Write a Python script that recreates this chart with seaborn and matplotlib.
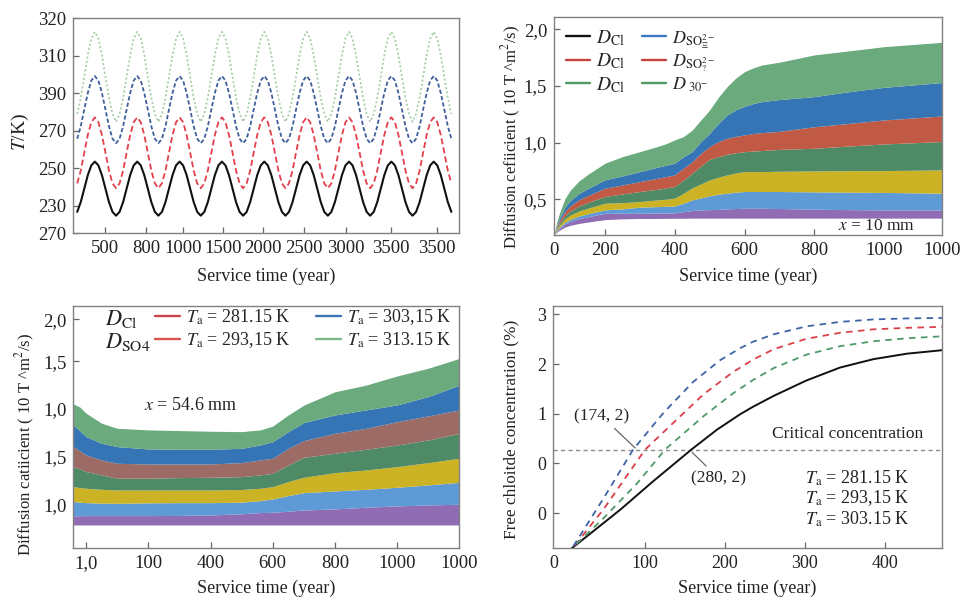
import numpy as np
import pandas as pd
import matplotlib
matplotlib.use("Agg")
import matplotlib.pyplot as plt
from matplotlib.lines import Line2D
import seaborn as sns

# ---------------- Panel (a): temperature histories ----------------
a_years = np.arange(134, 3739, 34)          # sampling times, 1/12 cycle apart
a_xticks = [402, 798, 1154, 1540, 1925, 2320, 2725, 3159, 3602]
a_xticklabels = ["500", "800", "1000", "1500", "2000", "2500", "3000", "3500", "3500"]
a_yticks = [320, 310, 300, 290, 280, 270, 262.7]
a_yticklabels = ["320", "310", "390", "270", "250", "230", "270"]

T_black = [
    268.4, 271.0, 274.6, 278.2, 280.8, 281.8, 280.8, 278.2, 274.6, 271.0, 268.4, 267.4,
    268.4, 271.0, 274.6, 278.2, 280.8, 281.8, 280.8, 278.2, 274.6, 271.0, 268.4, 267.4,
    268.4, 271.0, 274.6, 278.2, 280.8, 281.8, 280.8, 278.2, 274.6, 271.0, 268.4, 267.4,
    268.4, 271.0, 274.6, 278.2, 280.8, 281.8, 280.8, 278.2, 274.6, 271.0, 268.4, 267.4,
    268.4, 271.0, 274.6, 278.2, 280.8, 281.8, 280.8, 278.2, 274.6, 271.0, 268.4, 267.4,
    268.4, 271.0, 274.6, 278.2, 280.8, 281.8, 280.8, 278.2, 274.6, 271.0, 268.4, 267.4,
    268.4, 271.0, 274.6, 278.2, 280.8, 281.8, 280.8, 278.2, 274.6, 271.0, 268.4, 267.4,
    268.4, 271.0, 274.6, 278.2, 280.8, 281.8, 280.8, 278.2, 274.6, 271.0, 268.4, 267.4,
    268.4, 271.0, 274.6, 278.2, 280.8, 281.8, 280.8, 278.2, 274.6, 271.0, 268.4]
T_red = [
    276.0, 279.4, 284.2, 288.9, 292.3, 293.6, 292.3, 288.9, 284.2, 279.4, 276.0, 274.7,
    276.0, 279.4, 284.2, 288.9, 292.3, 293.6, 292.3, 288.9, 284.2, 279.4, 276.0, 274.7,
    276.0, 279.4, 284.2, 288.9, 292.3, 293.6, 292.3, 288.9, 284.2, 279.4, 276.0, 274.7,
    276.0, 279.4, 284.2, 288.9, 292.3, 293.6, 292.3, 288.9, 284.2, 279.4, 276.0, 274.7,
    276.0, 279.4, 284.2, 288.9, 292.3, 293.6, 292.3, 288.9, 284.2, 279.4, 276.0, 274.7,
    276.0, 279.4, 284.2, 288.9, 292.3, 293.6, 292.3, 288.9, 284.2, 279.4, 276.0, 274.7,
    276.0, 279.4, 284.2, 288.9, 292.3, 293.6, 292.3, 288.9, 284.2, 279.4, 276.0, 274.7,
    276.0, 279.4, 284.2, 288.9, 292.3, 293.6, 292.3, 288.9, 284.2, 279.4, 276.0, 274.7,
    276.0, 279.4, 284.2, 288.9, 292.3, 293.6, 292.3, 288.9, 284.2, 279.4, 276.0]
T_blue = [
    287.9, 291.2, 295.7, 300.1, 303.4, 304.6, 303.4, 300.1, 295.7, 291.2, 287.9, 286.7,
    287.9, 291.2, 295.7, 300.1, 303.4, 304.6, 303.4, 300.1, 295.7, 291.2, 287.9, 286.7,
    287.9, 291.2, 295.7, 300.1, 303.4, 304.6, 303.4, 300.1, 295.7, 291.2, 287.9, 286.7,
    287.9, 291.2, 295.7, 300.1, 303.4, 304.6, 303.4, 300.1, 295.7, 291.2, 287.9, 286.7,
    287.9, 291.2, 295.7, 300.1, 303.4, 304.6, 303.4, 300.1, 295.7, 291.2, 287.9, 286.7,
    287.9, 291.2, 295.7, 300.1, 303.4, 304.6, 303.4, 300.1, 295.7, 291.2, 287.9, 286.7,
    287.9, 291.2, 295.7, 300.1, 303.4, 304.6, 303.4, 300.1, 295.7, 291.2, 287.9, 286.7,
    287.9, 291.2, 295.7, 300.1, 303.4, 304.6, 303.4, 300.1, 295.7, 291.2, 287.9, 286.7,
    287.9, 291.2, 295.7, 300.1, 303.4, 304.6, 303.4, 300.1, 295.7, 291.2, 287.9]
T_green = [
    294.5, 298.8, 304.4, 310.2, 314.6, 316.4, 314.6, 310.2, 304.4, 298.8, 294.5, 292.4,
    294.5, 298.8, 304.4, 310.2, 314.6, 316.4, 314.6, 310.2, 304.4, 298.8, 294.5, 292.4,
    294.5, 298.8, 304.4, 310.2, 314.6, 316.4, 314.6, 310.2, 304.4, 298.8, 294.5, 292.4,
    294.5, 298.8, 304.4, 310.2, 314.6, 316.4, 314.6, 310.2, 304.4, 298.8, 294.5, 292.4,
    294.5, 298.8, 304.4, 310.2, 314.6, 316.4, 314.6, 310.2, 304.4, 298.8, 294.5, 292.4,
    294.5, 298.8, 304.4, 310.2, 314.6, 316.4, 314.6, 310.2, 304.4, 298.8, 294.5, 292.4,
    294.5, 298.8, 304.4, 310.2, 314.6, 316.4, 314.6, 310.2, 304.4, 298.8, 294.5, 292.4,
    294.5, 298.8, 304.4, 310.2, 314.6, 316.4, 314.6, 310.2, 304.4, 298.8, 294.5, 292.4,
    294.5, 298.8, 304.4, 310.2, 314.6, 316.4, 314.6, 310.2, 304.4, 298.8, 294.5]

# ---------------- Panel (b): diffusion coefficient, x = 10 mm ----------------
b_years = [54, 62, 70, 85, 100, 125, 150, 200, 250, 300, 350, 375, 400, 425, 450, 475, 500,
           525, 550, 575, 600, 625, 650, 700, 800, 900, 1000, 1165]
b_base = [0.185, 0.209, 0.227, 0.253, 0.269, 0.286, 0.298, 0.32, 0.327, 0.33, 0.33, 0.331,
          0.332, 0.332, 0.333, 0.333, 0.333, 0.333, 0.333, 0.333, 0.333, 0.333, 0.333, 0.333,
          0.333, 0.333, 0.333, 0.333]
b_purple = [0.185, 0.219, 0.244, 0.281, 0.303, 0.328, 0.345, 0.376, 0.376, 0.376, 0.378, 0.378,
            0.38, 0.39, 0.40, 0.406, 0.408, 0.41, 0.415, 0.418, 0.42, 0.42, 0.42, 0.418, 0.412,
            0.408, 0.406, 0.406]
b_lblue = [0.185, 0.225, 0.254, 0.296, 0.322, 0.351, 0.371, 0.406, 0.415, 0.43, 0.435, 0.437,
           0.44, 0.465, 0.494, 0.512, 0.53, 0.544, 0.553, 0.562, 0.568, 0.568, 0.568, 0.568,
           0.565, 0.562, 0.56, 0.553]
b_yellow = [0.185, 0.235, 0.272, 0.325, 0.359, 0.395, 0.42, 0.465, 0.47, 0.48, 0.494, 0.50,
            0.509, 0.553, 0.60, 0.635, 0.67, 0.694, 0.715, 0.732, 0.744, 0.744, 0.744, 0.747,
            0.75, 0.752, 0.753, 0.759]
b_dgreen = [0.185, 0.246, 0.29, 0.355, 0.395, 0.439, 0.47, 0.524, 0.547, 0.568, 0.588, 0.60,
            0.612, 0.67, 0.73, 0.794, 0.853, 0.876, 0.897, 0.91, 0.92, 0.926, 0.93, 0.94, 0.95,
            0.97, 0.988, 1.009]
b_red = [0.185, 0.259, 0.313, 0.391, 0.44, 0.494, 0.531, 0.597, 0.626, 0.656, 0.685, 0.70,
         0.715, 0.774, 0.832, 0.906, 0.965, 1.009, 1.038, 1.055, 1.068, 1.08, 1.088, 1.10, 1.14,
         1.17, 1.20, 1.235]
b_blue = [0.185, 0.272, 0.336, 0.428, 0.486, 0.55, 0.593, 0.671, 0.706, 0.744, 0.782, 0.80,
          0.818, 0.876, 0.92, 1.009, 1.082, 1.17, 1.244, 1.29, 1.32, 1.345, 1.362, 1.38, 1.406,
          1.45, 1.488, 1.53]
b_green = [0.185, 0.299, 0.381, 0.502, 0.577, 0.66, 0.717, 0.818, 0.876, 0.92, 0.965, 0.99,
           1.024, 1.053, 1.11, 1.2, 1.288, 1.40, 1.494, 1.57, 1.626, 1.66, 1.685, 1.71, 1.774,
           1.81, 1.847, 1.885]
b_xticks = [54, 200, 400, 600, 800, 1000, 1165]
b_xticklabels = ["0", "200", "400", "600", "800", "1000", "1000"]
b_yticks = [2.0, 1.5, 1.0, 0.5]
b_yticklabels = ["2,0", "1,5", "1,0", "0,5"]
b_legend_col1 = [r"$D_{\mathrm{Cl}}$", r"$D_{\mathrm{Cl}}$", r"$D_{\mathrm{Cl}}$"]
b_legend_col2 = [r"$D_{\mathrm{SO}_{\Xi}^{2-}}$", r"$D_{\mathrm{SO}_{?}^{2-}}$", r"$D_{\ 30^{-}}$"]

# ---------------- Panel (c): diffusion coefficient, x = 54.6 mm ----------------
c_years = [-41, -20, 0, 50, 100, 200, 300, 400, 500, 560, 600, 650, 700, 800, 900, 1000, 1100, 1200]
c_base = [0.783] * len(c_years)
c_purple = [0.878, 0.88, 0.881, 0.881, 0.881, 0.881, 0.883, 0.888, 0.90, 0.913, 0.916, 0.927,
            0.94, 0.951, 0.969, 0.983, 0.993, 1.0]
c_lblue = [1.028, 1.022, 1.017, 1.012, 1.01, 1.015, 1.017, 1.017, 1.022, 1.038, 1.056, 1.091,
           1.122, 1.14, 1.157, 1.178, 1.203, 1.23]
c_yellow = [1.185, 1.175, 1.168, 1.157, 1.15, 1.15, 1.15, 1.15, 1.155, 1.168, 1.185, 1.238,
            1.283, 1.332, 1.36, 1.395, 1.437, 1.483]
c_dgreen = [1.395, 1.37, 1.343, 1.308, 1.273, 1.273, 1.28, 1.283, 1.29, 1.308, 1.325, 1.413,
            1.493, 1.535, 1.577, 1.622, 1.675, 1.745]
c_brown = [1.605, 1.56, 1.517, 1.465, 1.43, 1.423, 1.423, 1.423, 1.437, 1.465, 1.483, 1.587,
           1.668, 1.745, 1.797, 1.867, 1.927, 1.99]
c_blue = [1.832, 1.77, 1.71, 1.64, 1.605, 1.58, 1.577, 1.577, 1.587, 1.622, 1.657, 1.762,
          1.857, 1.937, 1.99, 2.042, 2.13, 2.25]
c_green = [2.052, 2.02, 1.955, 1.85, 1.797, 1.78, 1.773, 1.766, 1.762, 1.78, 1.82, 1.937,
           2.04, 2.18, 2.25, 2.346, 2.427, 2.53]
c_xticks = [0, 200, 400, 600, 800, 1000, 1200]
c_xticklabels = ["1,0", "100", "400", "600", "800", "1000", "1000"]
c_yticks = [1.0, 1.5, 2.0, 2.5, 2.94]
c_yticklabels = ["1,0", "1,5", "1,0", "1,5", "2,0"]
c_legend_labels = [r"$T_{\mathrm{a}}$ = 281.15 K", r"$T_{\mathrm{a}}$ = 293,15 K",
                   r"$T_{\mathrm{a}}$ = 303,15 K", r"$T_{\mathrm{a}}$ = 313.15 K"]

# ---------------- Panel (d): free chloride concentration ----------------
d_black_x = [8, 30, 69, 110, 158, 190, 219, 235, 261, 302, 344, 386, 428, 472]
d_black_y = [-1.71, -1.43, -0.93, -0.36, 0.28, 0.68, 0.99, 1.14, 1.36, 1.67, 1.93, 2.10, 2.21, 2.28]
d_blue_x = [10, 48, 85, 123, 160, 194, 219, 235, 261, 302, 344, 386, 428, 472]
d_blue_y = [-1.67, -0.70, 0.28, 1.02, 1.64, 2.08, 2.32, 2.45, 2.60, 2.76, 2.85, 2.90, 2.92, 2.93]
d_red_x = [12, 48, 100, 144, 173, 210, 235, 261, 302, 344, 386, 428, 472]
d_red_y = [-1.65, -0.92, 0.28, 0.95, 1.39, 1.84, 2.09, 2.30, 2.51, 2.63, 2.70, 2.73, 2.75]
d_green_x = [14, 48, 90, 125, 173, 210, 235, 261, 302, 344, 386, 428, 472]
d_green_y = [-1.62, -1.10, -0.40, 0.28, 0.95, 1.41, 1.68, 1.92, 2.19, 2.36, 2.46, 2.52, 2.56]
d_critical = 0.278
d_xticks = [-15, 100, 200, 300, 400]
d_xticklabels = ["0", "100", "200", "300", "400"]
d_yticks = [3, 2, 1, 0, -1]
d_yticklabels = ["3", "2", "1", "0", "0"]
d_temps = [r"$T_{\mathrm{a}}$ = 281.15 K", r"$T_{\mathrm{a}}$ = 293,15 K", r"$T_{\mathrm{a}}$ = 303.15 K"]

# ---------------- styling ----------------
sns.set_theme(style="white")
plt.rcParams["font.family"] = ["Liberation Serif", "DejaVu Serif"]
plt.rcParams["mathtext.fontset"] = "stix"

TXT = "#222222"
fig = plt.figure(figsize=(9.61, 5.98), dpi=100)
ax1 = fig.add_axes([0.0757, 0.6099, 0.4022, 0.3595])
ax2 = fig.add_axes([0.5765, 0.6070, 0.4034, 0.3640])
ax3 = fig.add_axes([0.0763, 0.0831, 0.4017, 0.4052])
ax4 = fig.add_axes([0.5758, 0.0831, 0.4042, 0.4052])


def style(ax, fs):
    for s in ax.spines.values():
        s.set_visible(True)
        s.set_color("#808080")
        s.set_linewidth(1.0)
    ax.tick_params(direction="in", length=4, width=0.9, color="#666666",
                   labelsize=fs, labelcolor=TXT, pad=5,
                   bottom=True, left=True, top=False, right=False)
    ax.grid(False)


def labels(ax, xl, yl, xpos, ypos, fs_x=13, fs_y=12):
    ax.set_xlabel(xl, fontsize=fs_x, color=TXT, va="center")
    ax.set_ylabel(yl, fontsize=fs_y, color=TXT, va="center")
    ax.xaxis.set_label_coords(0.5, xpos)
    ax.yaxis.set_label_coords(ypos[0], ypos[1])


def line(ax, x, y, color, lw, dashes=None):
    sns.lineplot(x=x, y=y, ax=ax, color=color, lw=lw, sort=False, estimator=None)
    ln = ax.get_lines()[-1]
    if dashes is not None:
        ln.set_dashes(dashes)
    return ln


def hide_edge_ticks(ax, idx):
    ticks = ax.xaxis.get_major_ticks()
    for i in idx:
        ticks[i].tick1line.set_visible(False)


# ---- panel (a)
line(ax1, a_years, T_black, "#111111", 1.5)
line(ax1, a_years, T_red, "#e2404c", 1.3, (3.3, 1.8))
line(ax1, a_years, T_blue, "#3f5f9c", 1.3, (2.3, 1.3))
line(ax1, a_years, T_green, "#a3cba0", 1.2, (1.2, 1.4))
ax1.set_xlim(91, 3814)
ax1.set_ylim(262.7, 320)
ax1.set_xticks(a_xticks, a_xticklabels)
ax1.set_yticks(a_yticks, a_yticklabels)
style(ax1, 13.5)
labels(ax1, "Service time (year)", r"$T$/K)", -0.202, (-0.136, 0.47), fs_y=14)

# ---- panel (b)
b_layers = [b_base, b_purple, b_lblue, b_yellow, b_dgreen, b_red, b_blue, b_green]
b_colors = ["#8f6cb3", "#5e9ad6", "#cbb325", "#4f8a66", "#c05a45", "#3574b5", "#6aaa7c"]
for lo, hi, c in zip(b_layers[:-1], b_layers[1:], b_colors):
    ax2.fill_between(b_years, lo, hi, color=c, lw=0)
ax2.set_xlim(54, 1165)
ax2.set_ylim(0.184, 2.106)
ax2.set_xticks(b_xticks, b_xticklabels)
ax2.set_yticks(b_yticks, b_yticklabels)
style(ax2, 13.5)
hide_edge_ticks(ax2, [0, 5, 6])
labels(ax2, "Service time (year)", r"Diffusion cefiicient ( 10 T ^m$^2$/s)", -0.192, (-0.109, 0.45))
b_col1_colors = ["#111111", "#c8453d", "#4f9a66"]
b_col2_colors = ["#3b78c0", "#c8453d", "#4f9a66"]
b_row_y = [0.899, 0.790, 0.690]
for r in range(3):
    hs = [Line2D([], [], color=b_col1_colors[r], lw=1.7), Line2D([], [], color=b_col2_colors[r], lw=1.7)]
    leg = ax2.legend(hs, [b_legend_col1[r], b_legend_col2[r]], ncol=2, loc="center left",
                     bbox_to_anchor=(0.031, b_row_y[r]), frameon=False, fontsize=14,
                     handlelength=1.25, handletextpad=0.3, columnspacing=0.85,
                     borderpad=0, borderaxespad=0)
    leg.get_texts()[1].set_fontsize(13)
    if r < 2:
        ax2.add_artist(leg)
ax2.text(0.833, 0.04, r"$x$ = 10 mm", transform=ax2.transAxes, ha="center", va="center",
         fontsize=12.5, color=TXT)

# ---- panel (c)
c_layers = [c_base, c_purple, c_lblue, c_yellow, c_dgreen, c_brown, c_blue, c_green]
c_colors = ["#8f6cb3", "#5e9ad6", "#cbb325", "#4f8a66", "#9c6b66", "#3574b5", "#6aaa7c"]
for lo, hi, c in zip(c_layers[:-1], c_layers[1:], c_colors):
    ax3.fill_between(c_years, lo, hi, color=c, lw=0)
ax3.set_xlim(-41, 1200)
ax3.set_ylim(0.538, 3.08)
ax3.set_xticks(c_xticks, c_xticklabels)
ax3.set_yticks(c_yticks, c_yticklabels)
style(ax3, 13.5)
hide_edge_ticks(ax3, [6])
labels(ax3, "Service time (year)", r"Diffusion catiicient ( 10 T ^m$^2$/s)", -0.166, (-0.125, 0.43))
c_handles = [Line2D([], [], color=c, lw=1.7) for c in ["#c8454a", "#d9534f", "#3b73b5", "#7ab88a"]]
ax3.legend(c_handles, c_legend_labels, ncol=2, loc="upper left", bbox_to_anchor=(0.211, 0.995),
           frameon=False, fontsize=13, handlelength=1.4, handletextpad=0.33,
           columnspacing=1.4, labelspacing=0.2, borderpad=0, borderaxespad=0)
ax3.text(0.082, 0.948, r"$D_{\mathrm{Cl}}$", transform=ax3.transAxes, ha="left", va="center",
         fontsize=16, color=TXT)
ax3.text(0.082, 0.853, r"$D_{\mathrm{SO4}}$", transform=ax3.transAxes, ha="left", va="center",
         fontsize=16, color=TXT)
ax3.text(0.305, 0.591, r"$x$ = 54.6 mm", transform=ax3.transAxes, ha="center", va="center",
         fontsize=13, color=TXT)

# ---- panel (d)
ax4.axhline(d_critical, color="#8c8c8c", lw=1.0, dashes=(3.0, 2.4))
line(ax4, d_black_x, d_black_y, "#111111", 1.4)
line(ax4, d_red_x, d_red_y, "#d9404a", 1.3, (3.6, 3.0))
line(ax4, d_green_x, d_green_y, "#4f9a6a", 1.3, (3.6, 3.0))
line(ax4, d_blue_x, d_blue_y, "#3f64a6", 1.3, (3.6, 3.0))
ax4.set_xlim(-15, 471.5)
ax4.set_ylim(-1.71, 3.17)
ax4.set_xticks(d_xticks, d_xticklabels)
ax4.set_yticks(d_yticks, d_yticklabels)
style(ax4, 13)
hide_edge_ticks(ax4, [0])
labels(ax4, "Service time (year)", "Free chloitde concentration (%)", -0.164, (-0.107, 0.49), fs_y=12.4)
ax4.annotate("(174, 2)", xy=(87.5, 0.31), xytext=(45.4, 0.95), ha="center", va="center",
             fontsize=12.5, color=TXT,
             arrowprops=dict(arrowstyle="-", color="#666666", lw=0.9, shrinkA=1, shrinkB=0))
ax4.annotate("(280, 2)", xy=(159, 0.22), xytext=(192, -0.30), ha="center", va="center",
             fontsize=12.5, color=TXT,
             arrowprops=dict(arrowstyle="-", color="#666666", lw=0.9, shrinkA=1, shrinkB=0))
ax4.text(354, 0.59, "Critical concentration", ha="center", va="center", fontsize=12.5, color=TXT)
for t, yy in zip(d_temps, [-0.294, -0.697, -1.133]):
    ax4.text(300.4, yy, t, ha="left", va="center", fontsize=13, color=TXT)

fig.savefig("out.png", dpi=100)
